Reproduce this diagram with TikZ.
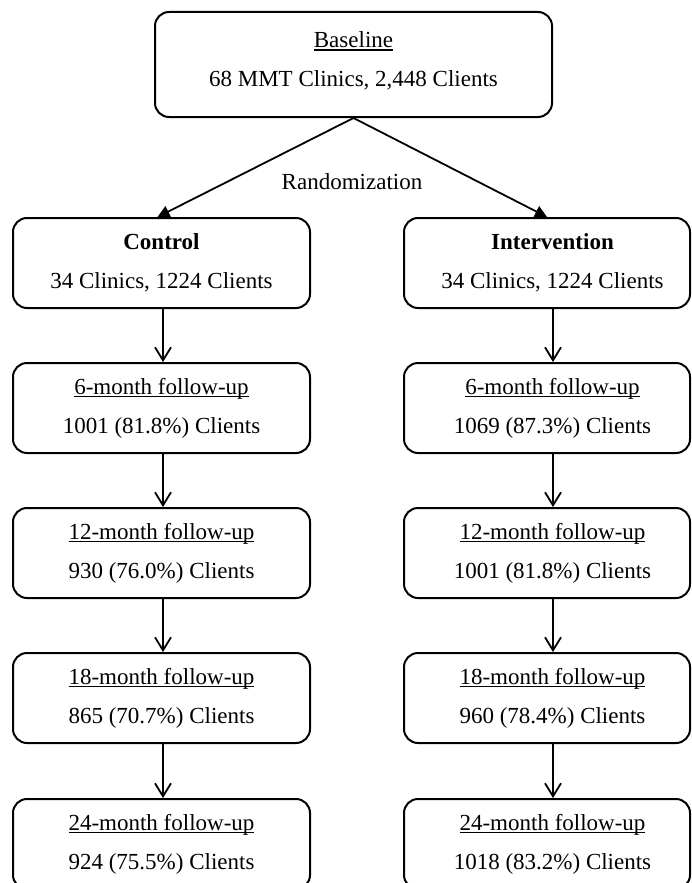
\documentclass[tikz,border=0pt]{standalone}
\usepackage{fontspec}
\setmainfont{Liberation Serif}
\usetikzlibrary{arrows.meta,calc}
\newcommand{\myul}[1]{\setbox0\hbox{#1}\rlap{\rule[-2.6pt]{\wd0}{1.2pt}}\box0}
\newcommand{\rs}{\hspace*{11pt}}
\begin{document}
\begin{tikzpicture}[x=1pt,y=-1pt,
  box/.style={draw, line width=2pt, rounded corners=14pt, minimum height=90pt, align=center, inner sep=0pt, font=\fontsize{23}{39}\selectfont},
  lbox/.style={box, minimum width=297pt},
  rbox/.style={box, minimum width=286pt},
  flow/.style={-{Straight Barb[length=13pt,width=16pt,line width=1.8pt]}, line width=1.8pt},
  split/.style={-{Triangle[length=12pt,width=12pt]}, line width=1.8pt}]
\useasboundingbox (0,0) rectangle (692,883);
\clip (0,0) rectangle (692,883);
\node[box, minimum width=397pt, minimum height=105pt] (base) at (353.5,64.5) {\myul{Baseline}\\68 MMT Clinics, 2,448 Clients\rule[-10pt]{0pt}{0pt}};
\node[font=\fontsize{23}{25}\selectfont, inner sep=0pt] (rand) at (352,182) {Randomization};
% left column
\node[lbox] (c0) at (161.5,263) {\textbf{Control}\\34 Clinics, 1224 Clients};
\node[lbox] (c1) at (161.5,408) {\myul{6-month follow-up}\\1001 (81.8\%) Clients};
\node[lbox] (c2) at (161.5,553) {\myul{12-month follow-up}\\930 (76.0\%) Clients};
\node[lbox] (c3) at (161.5,698) {\myul{18-month follow-up}\\865 (70.7\%) Clients};
\node[lbox] (c4) at (161.5,844) {\myul{24-month follow-up}\\924 (75.5\%) Clients};
% right column
\node[rbox] (i0) at (547,263) {\rs\textbf{Intervention}\\\rs 34 Clinics, 1224 Clients};
\node[rbox] (i1) at (547,408) {\rs\myul{6-month follow-up}\\\rs 1069 (87.3\%) Clients};
\node[rbox] (i2) at (547,553) {\rs\myul{12-month follow-up}\\\rs 1001 (81.8\%) Clients};
\node[rbox] (i3) at (547,698) {\rs\myul{18-month follow-up}\\\rs 960 (78.4\%) Clients};
\node[rbox] (i4) at (547,844) {\rs\myul{24-month follow-up}\\\rs 1018 (83.2\%) Clients};
\coordinate (rx) at (553,0);
\coordinate (lx) at (163,0);
% connectors
\draw[split] (base.south) -- ($(c0.north)+(-4,0)$);
\draw[split] (base.south) -- (i0.north);
\foreach \a/\b in {c0/c1,c1/c2,c2/c3,c3/c4}{
  \draw[flow] (\a.south -| lx) -- (\b.north -| lx);
}
\foreach \a/\b in {i0/i1,i1/i2,i2/i3,i3/i4}{
  \draw[flow] (\a.south -| rx) -- (\b.north -| rx);
}
\end{tikzpicture}
\end{document}
